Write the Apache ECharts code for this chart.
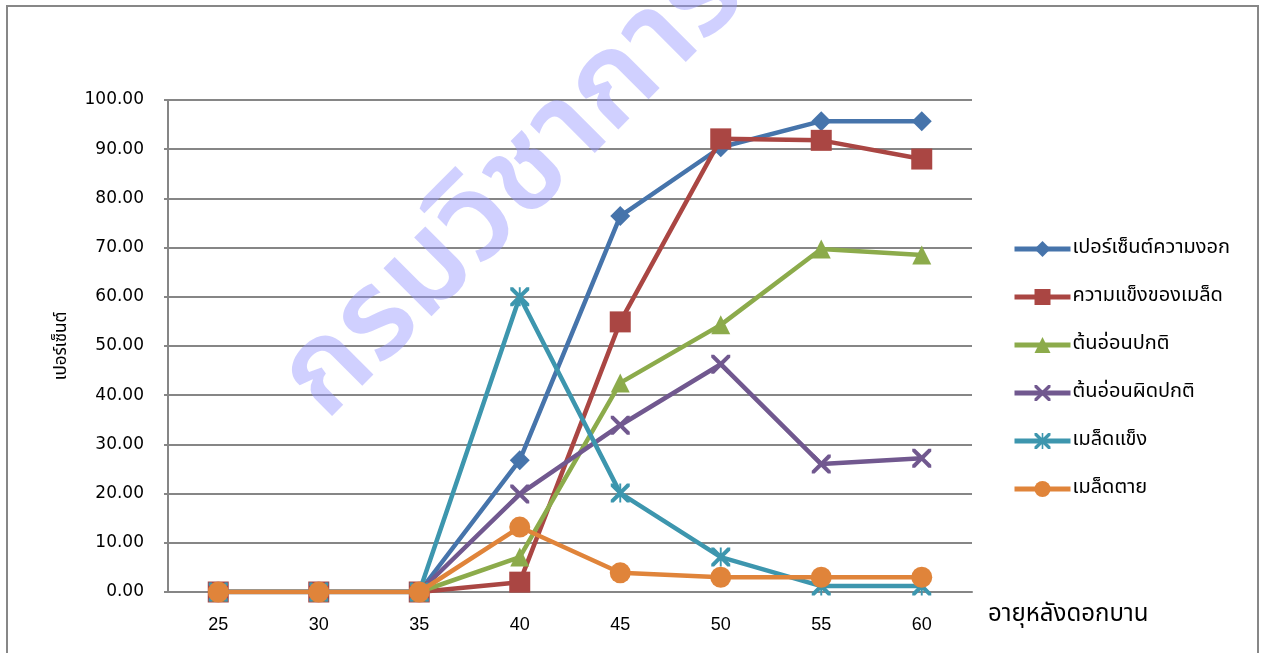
<!DOCTYPE html>
<html><head><meta charset="utf-8">
<script src="https://cdn.jsdelivr.net/npm/echarts@6/dist/echarts.min.js"></script>
<style>html,body{margin:0;padding:0;background:#fff}#c{width:1261px;height:653px}</style>
</head><body><div id="c"></div>
<script>
const categories = ['25','30','35','40','45','50','55','60'];
const germination = [0,0,0,26.8,76.4,90.4,95.7,95.7];
const vigor = [0,0,0,2.0,54.9,92.1,91.8,88.0];
const normalSeedling = [0,0,0,7.1,42.5,54.3,69.7,68.5];
const abnormalSeedling = [0,0,0,19.9,33.9,46.3,26.0,27.2];
const hardSeed = [0,0,0,60.0,20.1,7.1,1.2,1.2];
const deadSeed = [0,0,0,13.2,3.9,3.0,3.0,3.0];
const seriesNames = ['เปอร์เซ็นต์ความงอก','ความแข็งของเมล็ด','ต้นอ่อนปกติ','ต้นอ่อนผิดปกติ','เมล็ดแข็ง','เมล็ดตาย'];
const yTicks = {min:0, max:100, interval:10};

const THAI = '"Noto Sans Thai","Tahoma","DejaVu Sans","Noto Sans",sans-serif';
const xPath = 'path://M0,0 L3,0 L10,7 L17,0 L20,0 L20,3 L13,10 L20,17 L20,20 L17,20 L10,13 L3,20 L0,20 L0,17 L7,10 L0,3 Z';
const starPath = 'path://M0,0 L3,0 L9,6 L9,0 L11,0 L11,6 L17,0 L20,0 L20,3 L13,10 L20,17 L20,20 L17,20 L11,14 L11,20 L9,20 L9,14 L3,20 L0,20 L0,17 L7,10 L0,3 Z';
const colors = ['#4674ab','#aa4643','#8cab4b','#71588f','#3d96ae','#e0843a'];
const symbols = ['diamond','rect','triangle',xPath,starPath,'circle'];
const sizes = [20,21,19,19,19,21];
const dataSets = [germination,vigor,normalSeedling,abnormalSeedling,hardSeed,deadSeed];

const chart = echarts.init(document.getElementById('c'));
chart.setOption({
  animation:false,
  backgroundColor:'#fff',
  grid:{left:168,right:289,top:100,bottom:61},
  legend:{
    orient:'vertical', left:1007, top:234, itemGap:28, itemWidth:56, itemHeight:20,
    lineStyle:{width:5},
    textStyle:{fontFamily:THAI, fontSize:20, color:'#000', padding:[0,0,0,-3]},
    data:seriesNames
  },
  xAxis:{
    type:'category', data:categories, boundaryGap:true,
    name:'อายุหลังดอกบาน', nameLocation:'end', nameGap:16,
    nameTextStyle:{fontFamily:THAI, fontSize:24, color:'#000', verticalAlign:'top', padding:[12,0,0,0]},
    axisLine:{lineStyle:{color:'#868686', width:2}},
    axisTick:{show:false},
    axisLabel:{fontFamily:'"Liberation Sans Narrow","Liberation Sans",sans-serif', fontSize:18, color:'#000', margin:24}
  },
  yAxis:{
    type:'value', min:yTicks.min, max:yTicks.max, interval:yTicks.interval,
    name:'เปอร์เซ็นต์', nameLocation:'middle', nameGap:97, nameRotate:90,
    nameTextStyle:{fontFamily:THAI, fontSize:17, color:'#000'},
    axisLine:{show:true, lineStyle:{color:'#868686', width:2}},
    axisTick:{show:true, length:4, lineStyle:{color:'#868686', width:2}},
    splitLine:{lineStyle:{color:'#868686', width:2}},
    axisLabel:{formatter:v=>v.toFixed(2), fontFamily:'"DejaVu Sans",sans-serif', fontSize:17, color:'#000', margin:24}
  },
  graphic:[
    {type:'rect', shape:{x:7,y:6,width:1251,height:670}, style:{fill:'none', stroke:'#878787', lineWidth:2}, z:-1, silent:true},
    {type:'text', x:352, y:448, rotation:Math.PI*0.25, originX:0, originY:0,
     style:{text:'กรมวิชาการเกษตร', font:'600 124px '+THAI, fill:'rgba(150,150,255,0.45)', textAlign:'left', textVerticalAlign:'bottom'}, z:100, silent:true}
  ],
  series: dataSets.map((d,i)=>({
    name:seriesNames[i], type:'line', data:d,
    symbol:symbols[i], symbolSize:sizes[i], showSymbol:true,
    lineStyle:{color:colors[i], width:4.5},
    itemStyle:{color:colors[i]},
    z:2+i
  }))
});
</script></body></html>
